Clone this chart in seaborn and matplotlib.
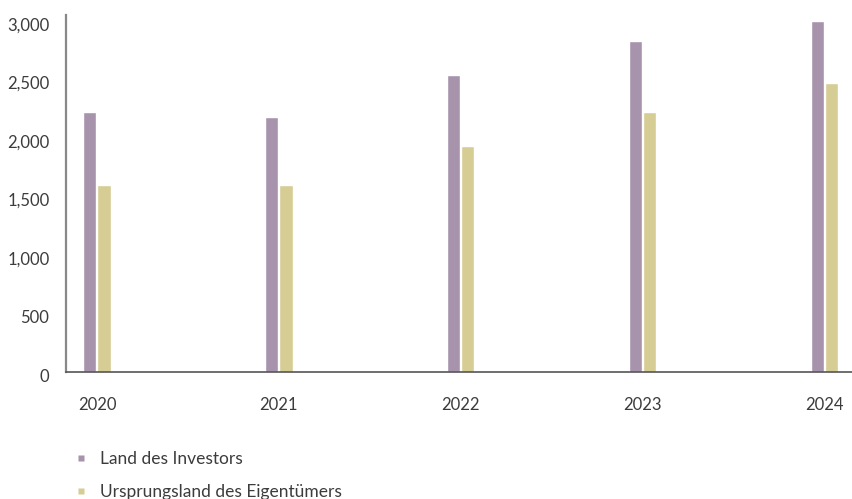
import matplotlib
matplotlib.use("Agg")
import matplotlib.pyplot as plt
import matplotlib.transforms as mtransforms
import seaborn as sns
import pandas as pd
from matplotlib.lines import Line2D

# --- DATA ---
years = ["2020", "2021", "2022", "2023", "2024"]
investor_land = [2225, 2175, 2540, 2830, 3000]
ursprung_land = [1600, 1600, 1935, 2225, 2470]
series_names = ["Land des Investors", "Ursprungsland des Eigentümers"]
colors = ["#A793AC", "#D6CD94"]

df = pd.DataFrame({
    "year": years * 2,
    "value": investor_land + ursprung_land,
    "series": [series_names[0]] * len(years) + [series_names[1]] * len(years),
})

sns.set_theme(style="white")
plt.rcParams["font.family"] = ["Lato", "DejaVu Sans"]
text_col = "#3c3c3c"

fig = plt.figure(figsize=(8.52, 4.99), dpi=100)
ax = fig.add_axes([0.0775, 0.2545, 0.9225, 0.7155])

sns.barplot(data=df, x="year", y="value", hue="series", order=years,
            hue_order=series_names, palette=colors, width=0.155, gap=0.07,
            saturation=1, ax=ax, legend=False)

ax.set_xlim(-0.17, 4.15)
ax.set_ylim(0, 3051)
ax.set_yticks([0, 500, 1000, 1500, 2000, 2500, 3000])
ax.set_yticklabels([f"{v:,}" for v in [0, 500, 1000, 1500, 2000, 2500, 3000]])
ax.set_xlabel("")
ax.set_ylabel("")
ax.tick_params(axis="y", length=0, pad=12, labelsize=12, labelcolor=text_col)
ax.tick_params(axis="x", length=0, pad=18, labelsize=12, labelcolor=text_col)
shift = mtransforms.ScaledTranslation(0, -3 / 100, fig.dpi_scale_trans)
for t in ax.get_yticklabels():
    t.set_transform(t.get_transform() + shift)

sns.despine(ax=ax, top=True, right=True)
ax.spines["left"].set_color("#888888")
ax.spines["left"].set_linewidth(1.6)
ax.spines["bottom"].set_color("#555555")
ax.spines["bottom"].set_linewidth(1.2)

handles = [Line2D([0], [0], marker="s", color="none", markerfacecolor=c,
                  markeredgecolor="none", markersize=4) for c in colors]
fig.legend(handles, series_names, loc="center left", bbox_to_anchor=(0.075, 0.047),
           frameon=False, fontsize=12.5, labelcolor=text_col, handlelength=1.0,
           handletextpad=0.6, labelspacing=1.0, borderpad=0)

fig.savefig("out.png", dpi=100)
